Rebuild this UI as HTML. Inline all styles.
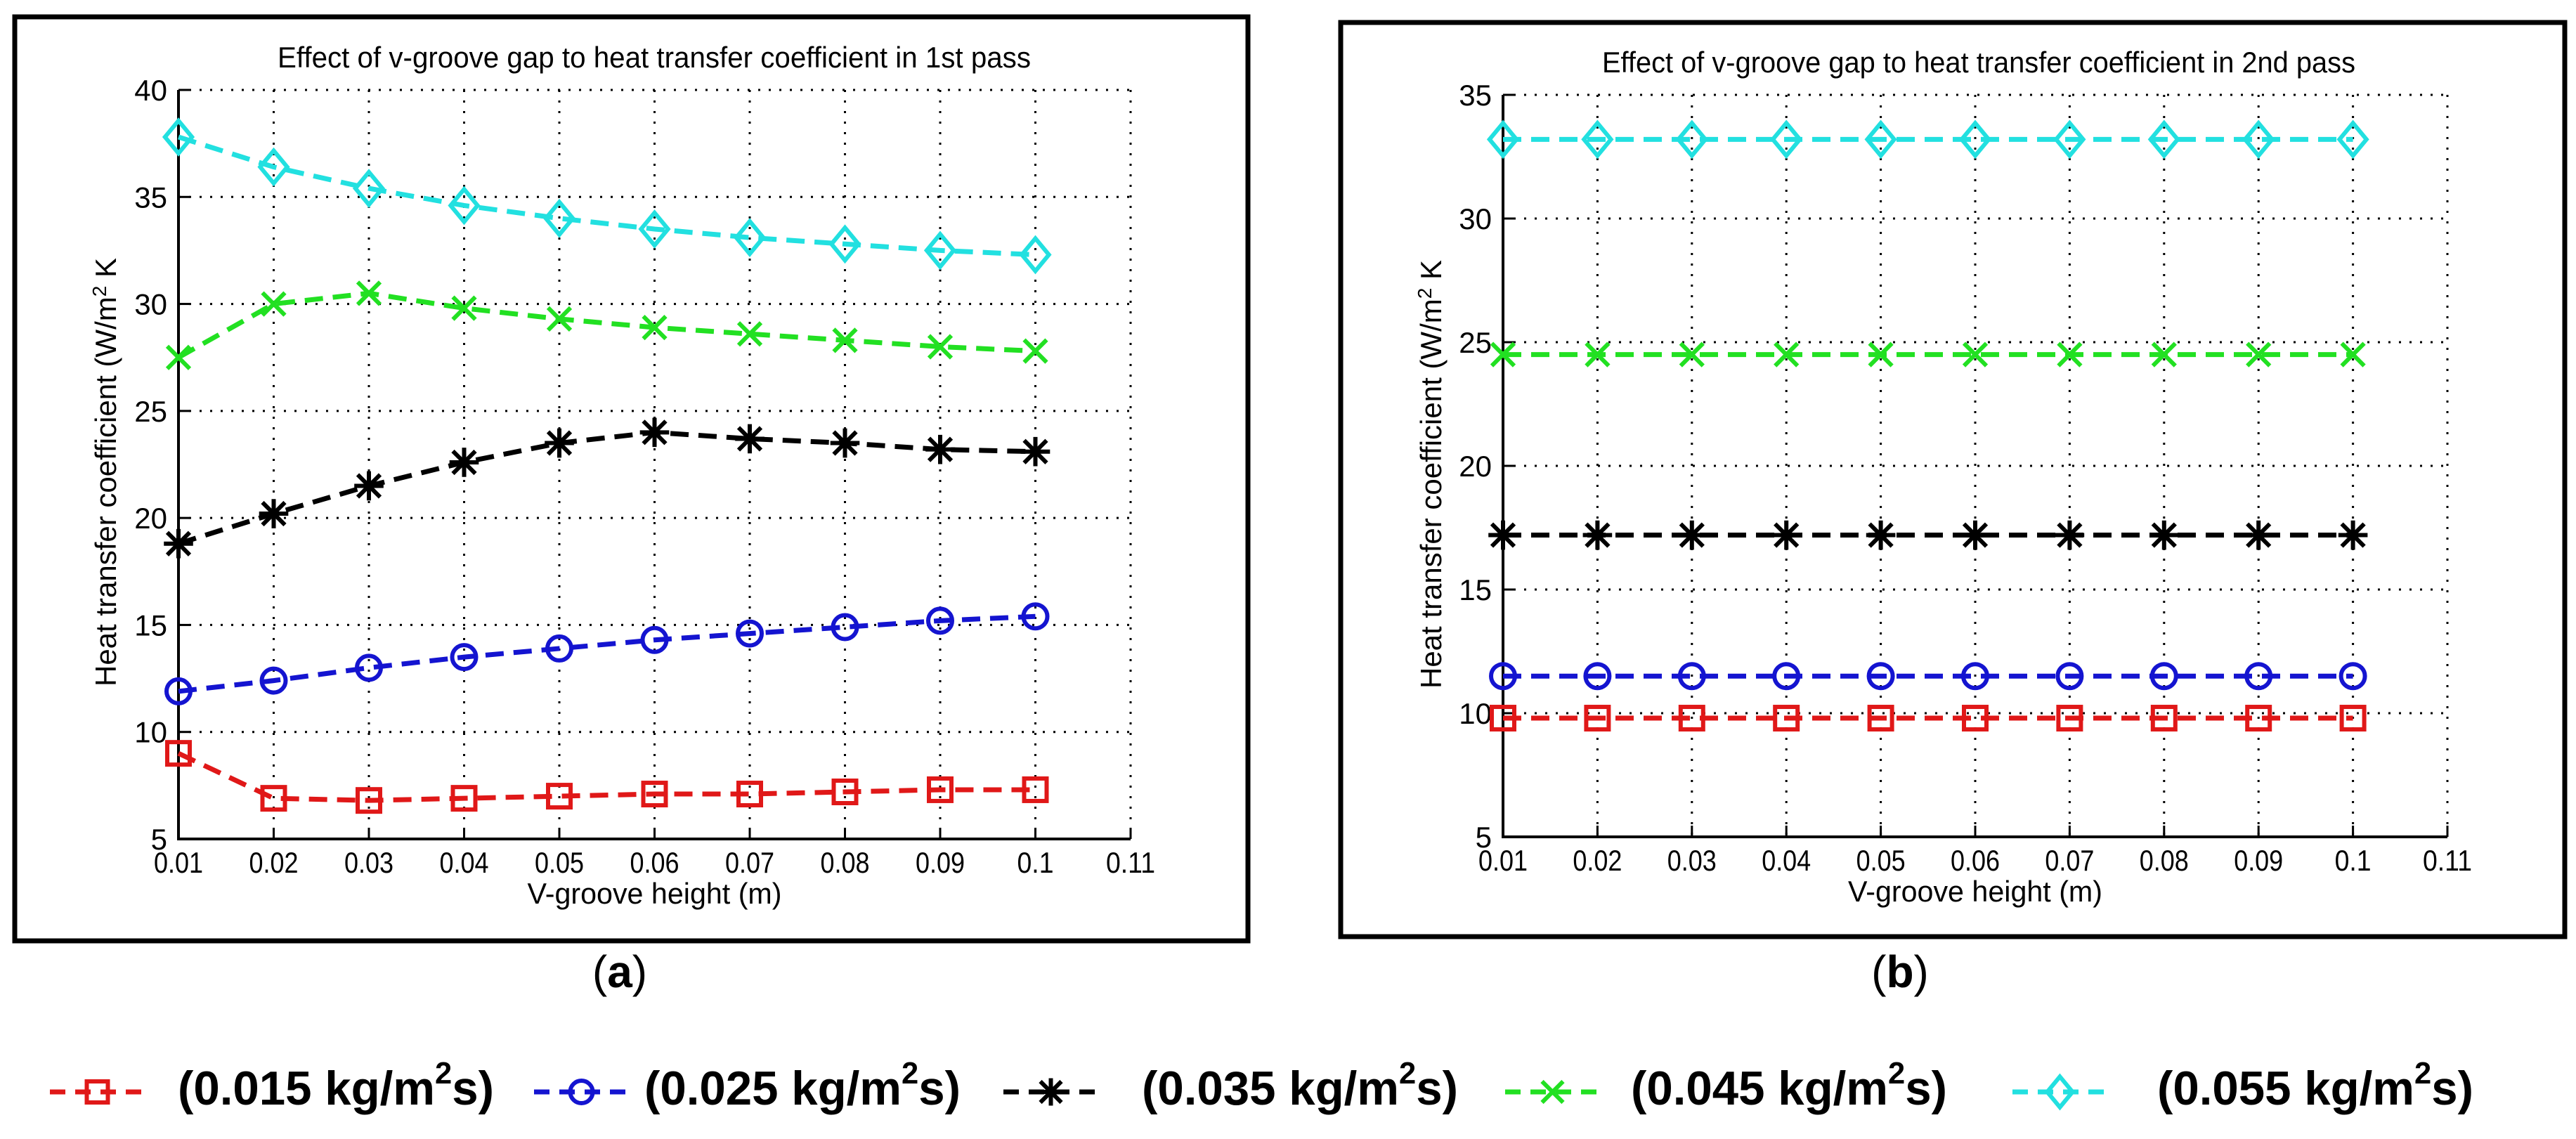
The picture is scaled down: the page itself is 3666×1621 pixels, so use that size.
<!DOCTYPE html>
<html><head><meta charset="utf-8"><style>
html,body{margin:0;padding:0;background:#fff;}
svg{display:block;}
text{font-family:"Liberation Sans",sans-serif;}
</style></head><body>
<svg id="fig" width="3666" height="1621" viewBox="0 0 3666 1621" xmlns="http://www.w3.org/2000/svg">
<rect x="0" y="0" width="3666" height="1621" fill="#fff"/>
<rect x="21" y="24" width="1755" height="1315" fill="none" stroke="#000" stroke-width="7"/>
<rect x="1908" y="32" width="1742" height="1301" fill="none" stroke="#000" stroke-width="7"/>
<g id="pa"></g>
<g id="pb"></g>
<text x="882" y="1405" font-family="Liberation Serif,serif" font-size="64" text-anchor="middle">(<tspan font-weight="bold">a</tspan>)</text>
<text x="2704" y="1405" font-family="Liberation Serif,serif" font-size="64" text-anchor="middle">(<tspan font-weight="bold">b</tspan>)</text>
<g id="legend"></g>
</svg>
<script>
const xValues = [0.01,0.02,0.03,0.04,0.05,0.06,0.07,0.08,0.09,0.1];
const xTicks = [0.01,0.02,0.03,0.04,0.05,0.06,0.07,0.08,0.09,0.1,0.11];
const xTickLabels = ["0.01","0.02","0.03","0.04","0.05","0.06","0.07","0.08","0.09","0.1","0.11"];
const yTicksA = [5,10,15,20,25,30,35,40];
const yTicksB = [5,10,15,20,25,30,35];
const seriesNames = ["(0.015 kg/m","(0.025 kg/m","(0.035 kg/m","(0.045 kg/m","(0.055 kg/m"];
const a015 = [9.0,6.9,6.8,6.9,7.0,7.1,7.1,7.2,7.3,7.3];
const a025 = [11.9,12.4,13.0,13.5,13.9,14.3,14.6,14.9,15.2,15.4];
const a035 = [18.8,20.2,21.5,22.6,23.5,24.0,23.7,23.5,23.2,23.1];
const a045 = [27.5,30.0,30.5,29.8,29.3,28.9,28.6,28.3,28.0,27.8];
const a055 = [37.8,36.4,35.4,34.6,34.0,33.5,33.1,32.8,32.5,32.3];
const b015 = [9.8,9.8,9.8,9.8,9.8,9.8,9.8,9.8,9.8,9.8];
const b025 = [11.5,11.5,11.5,11.5,11.5,11.5,11.5,11.5,11.5,11.5];
const b035 = [17.2,17.2,17.2,17.2,17.2,17.2,17.2,17.2,17.2,17.2];
const b045 = [24.5,24.5,24.5,24.5,24.5,24.5,24.5,24.5,24.5,24.5];
const b055 = [33.2,33.2,33.2,33.2,33.2,33.2,33.2,33.2,33.2,33.2];

const NS="http://www.w3.org/2000/svg";
const colors=["#e01818","#1414d0","#000000","#22e022","#22e0e0"];
const markers=["square","circle","star","x","diamond"];
function mk(tag,attrs,parent){const e=document.createElementNS(NS,tag);for(const k in attrs)e.setAttribute(k,attrs[k]);parent.appendChild(e);return e;}
function marker(g,type,cx,cy,c,s){
  let e;
  if(type==="square"){e=mk("rect",{x:cx-s,y:cy-s,width:2*s,height:2*s,fill:"none",stroke:c,"stroke-width":6},g);}
  else if(type==="circle"){e=mk("circle",{cx:cx,cy:cy,r:s+1,fill:"none",stroke:c,"stroke-width":6},g);}
  else if(type==="diamond"){e=mk("polygon",{points:`${cx},${cy-s*1.45} ${cx+s*1.2},${cy} ${cx},${cy+s*1.45} ${cx-s*1.2},${cy}`,fill:"none",stroke:c,"stroke-width":6},g);}
  else if(type==="x"){e=mk("path",{d:`M${cx-s} ${cy-s}L${cx+s} ${cy+s}M${cx-s} ${cy+s}L${cx+s} ${cy-s}`,stroke:c,"stroke-width":6},g);}
  else {e=mk("path",{d:`M${cx-s} ${cy-s}L${cx+s} ${cy+s}M${cx-s} ${cy+s}L${cx+s} ${cy-s}M${cx} ${cy-s*1.3}L${cx} ${cy+s*1.3}M${cx-s*1.3} ${cy}L${cx+s*1.3} ${cy}`,stroke:c,"stroke-width":6},g);}
  return e;
}
function panel(gid,L,R,T,B,ymin,ymax,yTicks,series,title,titleX,titleW,ylabX,ylabTop){
  const g=document.getElementById(gid);
  const xs=v=>L+(v-0.01)/(0.11-0.01)*(R-L);
  const ys=v=>B-(v-ymin)/(ymax-ymin)*(B-T);
  xTicks.forEach((t,i)=>{
    const gl=mk("line",{x1:xs(t),y1:T,x2:xs(t),y2:B,stroke:"#000","stroke-width":3,"stroke-dasharray":"3 12"},g);
    
    
    mk("line",{x1:xs(t),y1:B,x2:xs(t),y2:B-16,stroke:"#000","stroke-width":3},g);
    const tl=mk("text",{x:xs(t),y:B+48,"font-size":42,"text-anchor":"middle",textLength:xTickLabels[i].length>3?70:52,lengthAdjust:"spacingAndGlyphs"},g);
    tl.textContent=xTickLabels[i];
    
    
  });
  yTicks.forEach(t=>{
    const gl=mk("line",{x1:L,y1:ys(t),x2:R,y2:ys(t),stroke:"#000","stroke-width":3,"stroke-dasharray":"3 12"},g);
    
    
    mk("line",{x1:L,y1:ys(t),x2:L+16,y2:ys(t),stroke:"#000","stroke-width":3},g);
    const tl=mk("text",{x:L-16,y:ys(t)+15,"font-size":42,"text-anchor":"end"},g);
    tl.textContent=String(t);
    
    
  });
  const ax=mk("path",{d:`M${L} ${T}L${L} ${B}L${R} ${B}`,fill:"none",stroke:"#000","stroke-width":4},g);
  
  
  series.forEach((vals,si)=>{
    const pts=vals.map((v,i)=>`${xs(xValues[i])},${ys(v)}`).join(" ");
    const pl=mk("polyline",{points:pts,fill:"none",stroke:colors[si],"stroke-width":7,"stroke-dasharray":"26 14"},g);
    
    
    vals.forEach((v,i)=>{
      const m=marker(g,markers[si],xs(xValues[i]),ys(v),colors[si],16);
      
      
    });
  });
  const tt=mk("text",{x:titleX,y:T-32,"font-size":42,textLength:titleW,lengthAdjust:"spacingAndGlyphs"},g);
  tt.textContent=title;
  
  
  const xl=mk("text",{x:(L+R)/2,y:B+92,"font-size":42,"text-anchor":"middle",textLength:362,lengthAdjust:"spacingAndGlyphs"},g);
  xl.textContent="V-groove height (m)";
  
  
  const yl=mk("text",{x:0,y:0,"font-size":42,"text-anchor":"end",transform:`translate(${ylabX},${ylabTop}) rotate(-90)`},g);
  yl.innerHTML='Heat transfer coefficient (W/m<tspan font-size="28" dy="-14">2</tspan><tspan dy="14"> K</tspan>';
  
  
}
panel("pa",254,1609,128,1194,5,40,yTicksA,[a015,a025,a035,a045,a055],"Effect of v-groove gap to heat transfer coefficient in 1st pass",395,1072,165,367);
panel("pb",2139,3483,135,1191,5,35,yTicksB,[b015,b025,b035,b045,b055],"Effect of v-groove gap to heat transfer coefficient in 2nd pass",2280,1072,2051,370);

const legX=[71,760,1428,2142,2864];
const legTextX=[253,917,1625,2321,3070];
const leg=document.getElementById("legend");
seriesNames.forEach((n,i)=>{
  const y=1554, x0=legX[i], x1=x0+135;
  const ln=mk("line",{x1:x0,y1:y,x2:x1,y2:y,stroke:colors[i],"stroke-width":7,"stroke-dasharray":"22 14"},leg);
  
  
  const m=marker(leg,markers[i],(x0+x1)/2,y,colors[i],15);
  
  
  const t=mk("text",{x:legTextX[i],y:1572,"font-size":68,"font-weight":"bold",textLength:450,lengthAdjust:"spacingAndGlyphs"},leg);
  t.innerHTML=n+'<tspan font-size="44" dy="-30">2</tspan><tspan dy="30">s)</tspan>';
  
  
});
</script>
</body></html>
